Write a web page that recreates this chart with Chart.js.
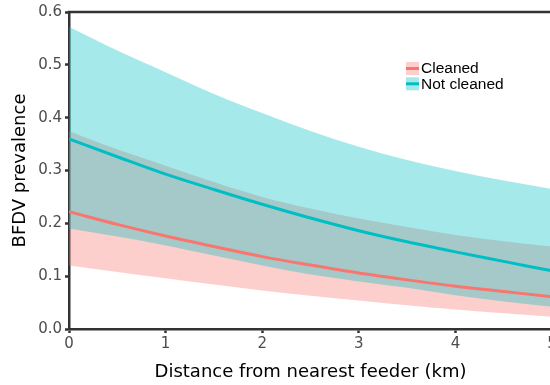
<!DOCTYPE html>
<html>
<head>
<meta charset="utf-8">
<script src="https://cdn.jsdelivr.net/npm/chart.js@4/dist/chart.umd.min.js"></script>
<style>
  html, body { margin: 0; padding: 0; background: #ffffff; overflow: hidden; }
  #wrap { width: 550px; height: 385px; overflow: hidden; }
</style>
</head>
<body>
<div id="wrap"><canvas id="c" width="560" height="385"></canvas></div>
<script>
// ---- data ----
const distances = [0, 0.5, 1, 1.5, 2, 2.5, 3, 3.5, 4, 4.5, 5];
const seriesNames = ['Cleaned', 'Not cleaned'];

const cleanedFit   = [0.222, 0.198, 0.176, 0.156, 0.137, 0.121, 0.106, 0.093, 0.081, 0.071, 0.061];
const cleanedUpper = [0.375, 0.340, 0.309, 0.278, 0.250, 0.228, 0.209, 0.193, 0.178, 0.166, 0.156];
const cleanedLower = [0.120, 0.108, 0.096, 0.084, 0.073, 0.063, 0.054, 0.045, 0.037, 0.030, 0.023];

const notCleanedFit   = [0.360, 0.326, 0.293, 0.264, 0.236, 0.210, 0.186, 0.165, 0.146, 0.128, 0.110];
const notCleanedUpper = [0.572, 0.527, 0.486, 0.445, 0.409, 0.375, 0.345, 0.320, 0.299, 0.281, 0.265];
const notCleanedLower = [0.190, 0.175, 0.158, 0.139, 0.120, 0.103, 0.090, 0.078, 0.064, 0.052, 0.042];

const xTicks = [0, 1, 2, 3, 4, 5];
const yTicks = [0.0, 0.1, 0.2, 0.3, 0.4, 0.5, 0.6];

// ---- styling ----
const RED = '#F8766D', TEAL = '#00BFC4';
const RED_FILL = 'rgba(248,118,109,0.35)', TEAL_FILL = 'rgba(0,191,196,0.35)';
const AXIS = '#333333';

const pts = arr => distances.map((d, i) => ({ x: d, y: arr[i] }));

const lineDs = (label, arr, color, order) => ({
  label, data: pts(arr), borderColor: color, borderWidth: 3,
  pointRadius: 0, fill: false, cubicInterpolationMode: 'monotone', order
});
const bandDs = (label, arr, fill, bg, order) => ({
  label, data: pts(arr), borderWidth: 0, borderColor: 'rgba(0,0,0,0)',
  backgroundColor: bg, pointRadius: 0, fill, cubicInterpolationMode: 'monotone', order
});

const legendPlugin = {
  id: 'customLegend',
  afterDraw(chart) {
    const ctx = chart.ctx;
    const items = [
      { name: seriesNames[0], line: RED, fill: RED_FILL },
      { name: seriesNames[1], line: TEAL, fill: TEAL_FILL }
    ];
    ctx.save();
    items.forEach((it, i) => {
      const kx = 406, ky = 62 + i * 15.3, kw = 13, kh = 13;
      ctx.fillStyle = it.fill;
      ctx.fillRect(kx, ky, kw, kh);
      ctx.strokeStyle = it.line;
      ctx.lineWidth = 3;
      ctx.beginPath();
      ctx.moveTo(kx, ky + kh / 2);
      ctx.lineTo(kx + kw, ky + kh / 2);
      ctx.stroke();
      ctx.fillStyle = '#000000';
      ctx.font = '15.5px "Liberation Sans", Arial, sans-serif';
      ctx.textBaseline = 'middle';
      ctx.textAlign = 'left';
      ctx.fillText(it.name, 421, ky + kh / 2 + 0.5);
    });
    ctx.restore();
  }
};

const topBorderPlugin = {
  id: 'topBorder',
  afterDatasetsDraw(chart) {
    const { ctx, chartArea } = chart;
    ctx.save();
    ctx.strokeStyle = AXIS;
    ctx.lineWidth = 2.5;
    ctx.beginPath();
    ctx.moveTo(chartArea.left - 1.25, chartArea.top);
    ctx.lineTo(chartArea.right + 5, chartArea.top);
    ctx.stroke();
    ctx.restore();
  }
};

const tickFont = { family: '"DejaVu Sans", sans-serif', size: 15 };
const titleFont = { family: '"DejaVu Sans", sans-serif', size: 18 };

new Chart(document.getElementById('c'), {
  type: 'line',
  data: {
    datasets: [
      lineDs(seriesNames[1], notCleanedFit, TEAL, 0),
      lineDs(seriesNames[0], cleanedFit, RED, 1),
      bandDs('nc_upper', notCleanedUpper, '+1', TEAL_FILL, 2),
      bandDs('nc_lower', notCleanedLower, false, 'rgba(0,0,0,0)', 3),
      bandDs('c_upper', cleanedUpper, '+1', RED_FILL, 4),
      bandDs('c_lower', cleanedLower, false, 'rgba(0,0,0,0)', 5)
    ]
  },
  options: {
    responsive: false,
    animation: false,
    devicePixelRatio: 1,
    layout: { padding: { top: 12, right: 8, left: 0, bottom: 0 } },
    plugins: { legend: { display: false }, tooltip: { enabled: false } },
    scales: {
      x: {
        type: 'linear', min: 0, max: 5, z: 1,
        afterBuildTicks: s => { s.ticks = xTicks.map(v => ({ value: v })); },
        afterFit: s => { s.height = 56; },
        ticks: { color: '#4D4D4D', font: tickFont, padding: 2, maxRotation: 0,
                 callback: v => String(v) },
        grid: { display: true, drawOnChartArea: false, drawTicks: true, tickLength: 4, tickWidth: 2.5, tickColor: AXIS },
        border: { display: true, color: AXIS, width: 2.5 },
        title: { display: true, text: 'Distance from nearest feeder (km)', color: '#000000',
                 font: titleFont, padding: { top: 0, bottom: 2 } }
      },
      y: {
        type: 'linear', min: 0, max: 0.6, z: 1,
        afterBuildTicks: s => { s.ticks = yTicks.map(v => ({ value: v })); },
        afterFit: s => { s.width = 69; },
        ticks: { color: '#4D4D4D', font: tickFont, padding: 3,
                 callback: v => Number(v).toFixed(1) },
        grid: { display: true, drawOnChartArea: false, drawTicks: true, tickLength: 4, tickWidth: 2.5, tickColor: AXIS },
        border: { display: true, color: AXIS, width: 2.5 },
        title: { display: true, text: 'BFDV prevalence', color: '#000000',
                 font: titleFont, padding: { top: 10, bottom: 0 } }
      }
    }
  },
  plugins: [topBorderPlugin, legendPlugin]
});
</script>
</body>
</html>
